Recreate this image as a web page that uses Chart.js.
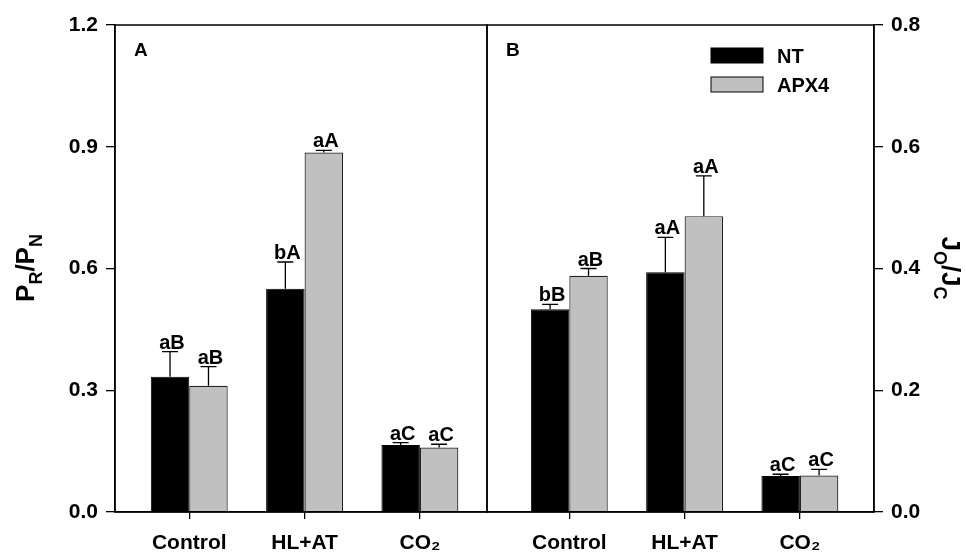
<!DOCTYPE html>
<html>
<head>
<meta charset="utf-8">
<script src="https://cdn.jsdelivr.net/npm/chart.js@4.4.1/dist/chart.umd.min.js"></script>
<style>
  body { margin: 0; background: #fff; }
  #wrap { position: relative; width: 965px; height: 559px; }
  canvas { position: absolute; top: 0; }
</style>
</head>
<body>
<div id="wrap">
  <canvas id="panelA" width="490" height="559" style="left:0"></canvas>
  <canvas id="panelB" width="481" height="559" style="left:484px"></canvas>
</div>
<script>
// categorias del eje x
const categorias = ['Control', 'HL+AT', 'CO₂'];

// panel A: PR/PN
const prNT = [0.333, 0.550, 0.165];
const prNTErr = [0.062, 0.066, 0.006];
const prNTSig = ['aB', 'bA', 'aC'];
const prAPX = [0.311, 0.886, 0.159];
const prAPXErr = [0.047, 0.005, 0.008];
const prAPXSig = ['aB', 'aA', 'aC'];
const ticksA = [0, 0.3, 0.6, 0.9, 1.2];

// panel B: JO/JC
const joNT = [0.333, 0.394, 0.059];
const joNTErr = [0.008, 0.057, 0.003];
const joNTSig = ['bB', 'aA', 'aC'];
const joAPX = [0.388, 0.486, 0.060];
const joAPXErr = [0.012, 0.066, 0.010];
const joAPXSig = ['aB', 'aA', 'aC'];
const ticksB = [0, 0.2, 0.4, 0.6, 0.8];

const FUENTE = '"Liberation Sans", Arial, sans-serif';
const NEGRO = '#000000';
const GRIS = '#c0c0c0';

// pasar a puntos {x, y} para el eje lineal
function puntos(valores) {
    return valores.map((v, i) => ({ x: i, y: v }));
}

// texto con subindices, p.ej. P_R/P_N
function textoSub(ctx, partes, x, y, angulo, tam) {
    const tamSub = Math.round(tam * 0.68);
    let ancho = 0;
    partes.forEach(p => {
        ctx.font = 'bold ' + (p.sub ? tamSub : tam) + 'px ' + FUENTE;
        p.w = ctx.measureText(p.t).width;
        ancho += p.w;
    });
    ctx.save();
    ctx.translate(x, y);
    ctx.rotate(angulo);
    ctx.fillStyle = NEGRO;
    ctx.textBaseline = 'alphabetic';
    ctx.textAlign = 'left';
    let cx = -ancho / 2;
    partes.forEach(p => {
        ctx.font = 'bold ' + (p.sub ? tamSub : tam) + 'px ' + FUENTE;
        ctx.fillText(p.t, cx, tam * 0.36 + (p.sub ? tam * 0.28 : 0));
        cx += p.w;
    });
    ctx.restore();
}

// barras de error, letras de significancia y marco
const extras = {
    id: 'extras',
    afterDatasetsDraw(chart, args, opts) {
        const ctx = chart.ctx;
        const escalaY = chart.scales.y;
        const area = chart.chartArea;

        chart.data.datasets.forEach((ds, i) => {
            const meta = chart.getDatasetMeta(i);
            meta.data.forEach((barra, j) => {
                const arriba = escalaY.getPixelForValue(ds.data[j].y + ds.errores[j]);
                ctx.save();
                ctx.strokeStyle = NEGRO;
                ctx.lineWidth = 1.3;
                ctx.beginPath();
                ctx.moveTo(barra.x, barra.y);
                ctx.lineTo(barra.x, arriba);
                ctx.moveTo(barra.x - 8, arriba);
                ctx.lineTo(barra.x + 8, arriba);
                ctx.stroke();

                ctx.fillStyle = NEGRO;
                ctx.font = 'bold 20px ' + FUENTE;
                ctx.textAlign = 'center';
                ctx.textBaseline = 'alphabetic';
                ctx.fillText(ds.letras[j], barra.x + 2, arriba - 3);
                ctx.restore();
            });
        });

        // marco del panel
        ctx.save();
        ctx.strokeStyle = NEGRO;
        ctx.lineWidth = 1.5;
        ctx.strokeRect(area.left, area.top, area.right - area.left, area.bottom - area.top);

        // letra del panel
        ctx.fillStyle = NEGRO;
        ctx.font = 'bold 19px ' + FUENTE;
        ctx.textAlign = 'left';
        ctx.fillText(opts.letra, area.left + 19, area.top + 31);

        // titulo del eje y
        if (opts.lado === 'izq') {
            textoSub(ctx, opts.titulo, 25, 268, -Math.PI / 2, 26);
        } else {
            textoSub(ctx, opts.titulo, chart.width - 14, 268, Math.PI / 2, 26);
        }

        // leyenda
        if (opts.leyenda) {
            chart.data.datasets.forEach((ds, i) => {
                const lx = area.left + 224;
                const ly = area.top + 23 + i * 29;
                ctx.fillStyle = ds.backgroundColor;
                ctx.fillRect(lx, ly, 52, 15);
                ctx.lineWidth = 1;
                ctx.strokeRect(lx, ly, 52, 15);
                ctx.fillStyle = NEGRO;
                ctx.font = 'bold 20px ' + FUENTE;
                ctx.fillText(ds.label, lx + 66, ly + 15);
            });
        }
        ctx.restore();
    }
};

function crearPanel(id, cfg) {
    const ctx = document.getElementById(id).getContext('2d');
    return new Chart(ctx, {
        type: 'bar',
        data: {
            datasets: [{
                label: 'NT',
                data: puntos(cfg.nt),
                errores: cfg.ntErr,
                letras: cfg.ntSig,
                backgroundColor: NEGRO,
                borderColor: NEGRO,
                borderWidth: 1,
                categoryPercentage: 0.667,
                barPercentage: 1.0
            }, {
                label: 'APX4',
                data: puntos(cfg.apx),
                errores: cfg.apxErr,
                letras: cfg.apxSig,
                backgroundColor: GRIS,
                borderColor: '#222222',
                borderWidth: 1.2,
                categoryPercentage: 0.667,
                barPercentage: 1.0
            }]
        },
        options: {
            responsive: false,
            animation: false,
            devicePixelRatio: 1,
            layout: { padding: cfg.padding },
            plugins: {
                legend: { display: false },
                tooltip: { enabled: false },
                extras: { letra: cfg.letra, titulo: cfg.titulo, lado: cfg.lado, leyenda: cfg.leyenda }
            },
            scales: {
                x: {
                    type: 'linear',
                    offset: false,
                    min: cfg.xMin,
                    max: cfg.xMax,
                    afterBuildTicks: s => { s.ticks = categorias.map((c, i) => ({ value: i })); },
                    afterFit: s => { s.height = 47; },
                    grid: { offset: false, drawOnChartArea: false, tickLength: 7, color: NEGRO, lineWidth: 1.3 },
                    border: { color: NEGRO, width: 1.5 },
                    ticks: {
                        color: NEGRO,
                        padding: 12,
                        autoSkip: false,
                        maxRotation: 0,
                        font: { family: FUENTE, size: 21, weight: 'bold' },
                        callback: v => categorias[v]
                    }
                },
                y: {
                    position: cfg.lado === 'izq' ? 'left' : 'right',
                    min: cfg.ticks[0],
                    max: cfg.ticks[cfg.ticks.length - 1],
                    afterBuildTicks: s => { s.ticks = cfg.ticks.map(v => ({ value: v })); },
                    afterFit: s => { s.width = cfg.anchoY; },
                    grid: { drawOnChartArea: false, tickLength: 9, color: NEGRO, lineWidth: 1.3 },
                    border: { color: NEGRO, width: 1.5 },
                    ticks: {
                        color: NEGRO,
                        padding: 8,
                        font: { family: FUENTE, size: 21, weight: 'bold' },
                        callback: v => v.toFixed(1)
                    }
                }
            }
        },
        plugins: [extras]
    });
}

crearPanel('panelA', {
    nt: prNT, ntErr: prNTErr, ntSig: prNTSig,
    apx: prAPX, apxErr: prAPXErr, apxSig: prAPXSig,
    ticks: ticksA,
    xMin: -0.644, xMax: 2.582,
    padding: { top: 25, right: 3, bottom: 0, left: 0 },
    anchoY: 115,
    lado: 'izq',
    letra: 'A',
    leyenda: false,
    titulo: [{ t: 'P' }, { t: 'R', sub: true }, { t: '/' }, { t: 'P' }, { t: 'N', sub: true }]
});

crearPanel('panelB', {
    nt: joNT, ntErr: joNTErr, ntSig: joNTSig,
    apx: joAPX, apxErr: joAPXErr, apxSig: joAPXSig,
    ticks: ticksB,
    xMin: -0.714, xMax: 2.643,
    padding: { top: 25, right: 0, bottom: 0, left: 3 },
    anchoY: 91,
    lado: 'der',
    letra: 'B',
    leyenda: true,
    titulo: [{ t: 'J' }, { t: 'O', sub: true }, { t: '/' }, { t: 'J' }, { t: 'C', sub: true }]
});
</script>
</body>
</html>
